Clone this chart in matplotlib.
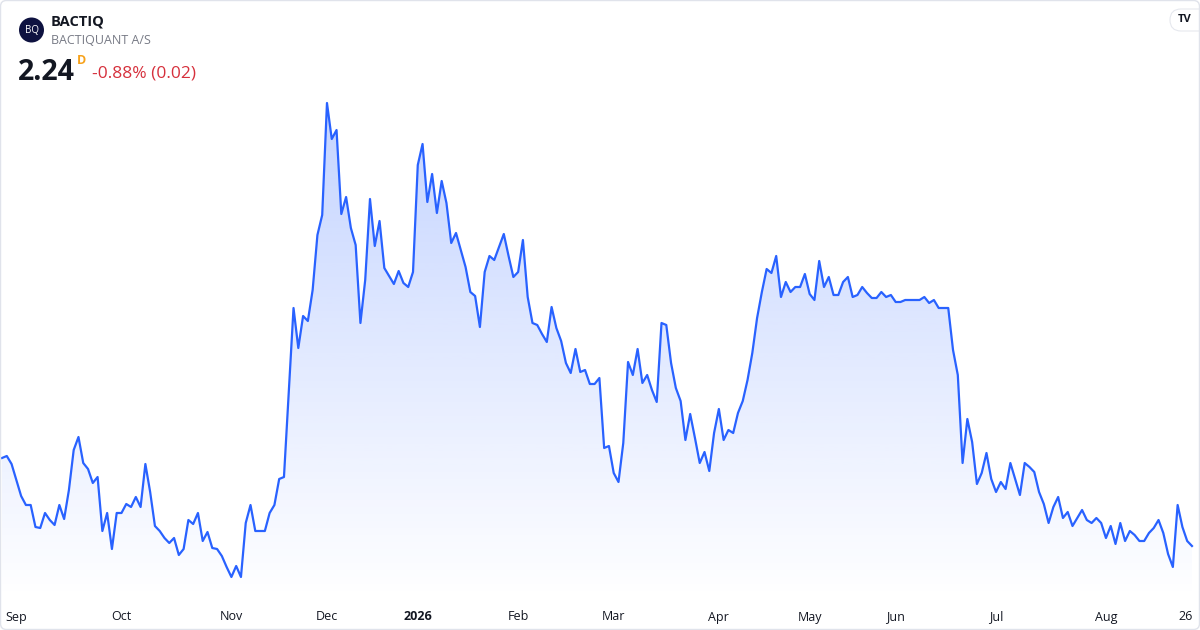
import numpy as np
import matplotlib
matplotlib.use("Agg")
import matplotlib.pyplot as plt
from matplotlib.patches import FancyBboxPatch, Circle
from matplotlib.transforms import blended_transform_factory

# ---------------- data ----------------
symbol = "BACTIQ"
company = "BACTIQUANT A/S"
last_price = "2.24"
change_text = "-0.88% (0.02)"

prices = [
    2.592, 2.600, 2.568, 2.504, 2.440, 2.404, 2.404, 2.316, 2.312, 2.372,
    2.344, 2.324, 2.404, 2.348, 2.464, 2.624, 2.676, 2.572, 2.548, 2.492,
    2.516, 2.300, 2.372, 2.228, 2.372, 2.372, 2.408, 2.396, 2.436, 2.396,
    2.568, 2.456, 2.320, 2.300, 2.272, 2.252, 2.272, 2.204, 2.228, 2.344,
    2.328, 2.372, 2.260, 2.296, 2.232, 2.228, 2.200, 2.156, 2.116, 2.160,
    2.116, 2.332, 2.404, 2.300, 2.300, 2.300, 2.372, 2.404, 2.508, 2.516,
    2.856, 3.192, 3.032, 3.160, 3.140, 3.264, 3.484, 3.564, 4.012, 3.868,
    3.904, 3.568, 3.636, 3.512, 3.444, 3.132, 3.304, 3.628, 3.440, 3.540,
    3.352, 3.320, 3.288, 3.340, 3.292, 3.276, 3.336, 3.764, 3.848, 3.616,
    3.728, 3.572, 3.700, 3.612, 3.452, 3.492, 3.424, 3.356, 3.256, 3.240,
    3.116, 3.336, 3.400, 3.384, 3.436, 3.488, 3.400, 3.316, 3.336, 3.464,
    3.236, 3.132, 3.124, 3.088, 3.056, 3.196, 3.112, 3.060, 2.972, 2.932,
    3.028, 2.936, 2.944, 2.888, 2.888, 2.912, 2.632, 2.640, 2.532, 2.496,
    2.652, 2.976, 2.924, 3.028, 2.892, 2.924, 2.864, 2.816, 3.132, 3.124,
    2.972, 2.872, 2.820, 2.664, 2.768, 2.672, 2.572, 2.616, 2.540, 2.692,
    2.788, 2.664, 2.704, 2.692, 2.772, 2.820, 2.904, 3.012, 3.152, 3.256,
    3.348, 3.332, 3.400, 3.236, 3.296, 3.256, 3.276, 3.276, 3.328, 3.248,
    3.224, 3.380, 3.276, 3.316, 3.244, 3.244, 3.296, 3.316, 3.236, 3.244,
    3.276, 3.252, 3.232, 3.232, 3.256, 3.236, 3.244, 3.216, 3.216, 3.224,
    3.224, 3.224, 3.224, 3.236, 3.212, 3.224, 3.192, 3.192, 3.192, 3.024,
    2.924, 2.572, 2.748, 2.656, 2.488, 2.532, 2.612, 2.508, 2.456, 2.496,
    2.468, 2.572, 2.508, 2.444, 2.572, 2.556, 2.536, 2.456, 2.408, 2.332,
    2.396, 2.436, 2.352, 2.376, 2.320, 2.352, 2.384, 2.344, 2.332, 2.352,
    2.332, 2.272, 2.320, 2.248, 2.332, 2.260, 2.300, 2.284, 2.260, 2.260,
    2.292, 2.312, 2.344, 2.292, 2.208, 2.156, 2.404, 2.316, 2.260, 2.240,
]

tick_labels = ["Sep", "Oct", "Nov", "Dec", "2026", "Feb", "Mar", "Apr",
               "May", "Jun", "Jul", "Aug", "26"]
tick_index = [3, 25, 48, 68, 87, 108, 128, 150, 169, 187, 208, 231, 247.6]

# ---------------- style ----------------
LINE = "#2962FF"
TEXT = "#131722"
GREY = "#787B86"
RED = "#D6303C"
ORANGE = "#F7A21B"
FONT = ["Open Sans", "DejaVu Sans"]
plt.rcParams["font.family"] = FONT

fig = plt.figure(figsize=(12, 6.3), dpi=100)
fig.patch.set_facecolor("white")
ax = fig.add_axes([0, 0, 1, 1])
ax.set_axis_off()

x = np.arange(len(prices))
y = np.array(prices)

base = 2.03
top = 4.03
poly = ax.fill_between(x, y, base, facecolor="none", edgecolor="none")
n = 256
alpha = np.linspace(0.0, 0.28, n)
rgba = np.zeros((n, 1, 4))
rgba[:, 0, 0] = 41 / 255
rgba[:, 0, 1] = 98 / 255
rgba[:, 0, 2] = 1.0
rgba[:, 0, 3] = alpha
img = ax.imshow(rgba, extent=[x[0], x[-1], base, top], origin="lower",
                aspect="auto", zorder=1, interpolation="bilinear")
img.set_clip_path(poly.get_paths()[0], transform=ax.transData)

ax.plot(x, y, color=LINE, lw=1.6, zorder=3, solid_joinstyle="round")

ax.set_xlim(-0.42, 250.68)
ax.set_ylim(1.904, 4.424)

trans = blended_transform_factory(ax.transData, ax.transAxes)
for lab, idx in zip(tick_labels, tick_index):
    ax.text(idx, 13 / 630, lab, transform=trans, ha="center", va="center",
            fontsize=9, color=TEXT,
            fontweight="bold" if lab == "2026" else "normal")

# ---------------- header ----------------
fig.patches.append(Circle((31.5 / 100, (630 - 30) / 100), 12.5 / 100,
                          transform=fig.dpi_scale_trans, facecolor="#0E1240",
                          edgecolor="none"))
fig.text(31.5 / 1200, 1 - 30.5 / 630, "BQ", ha="center", va="center",
         fontsize=7, color="white")
fig.text(51 / 1200, 1 - 21 / 630, symbol, ha="left", va="center",
         fontsize=10.5, fontweight="bold", color=TEXT)
fig.text(51 / 1200, 1 - 41 / 630, company, ha="left", va="center",
         fontsize=9, color=GREY)
fig.text(18 / 1200, 1 - 72 / 630, last_price, ha="left", va="center",
         fontsize=20.5, fontweight="bold", color=TEXT)
fig.text(77 / 1200, 1 - 61 / 630, "D", ha="left", va="center",
         fontsize=9, fontweight="bold", color=ORANGE)
fig.text(92 / 1200, 1 - 74 / 630, change_text, ha="left", va="center",
         fontsize=12.5, color=RED)

# TradingView badge
fig.patches.append(FancyBboxPatch((11.70, 6.3 - 0.31), 0.40, 0.22,
                                  boxstyle="round,pad=0,rounding_size=0.11",
                                  transform=fig.dpi_scale_trans,
                                  facecolor="white", edgecolor="#E6E8EE",
                                  lw=0.8, zorder=5))
fig.text(1185 / 1200, 1 - 20 / 630, "TV", ha="center", va="center",
         fontsize=8, fontweight="bold", color=TEXT, zorder=6)

# card border
fig.patches.append(FancyBboxPatch((0.005, 0.005), 11.99, 6.29,
                                  boxstyle="round,pad=0,rounding_size=0.06",
                                  transform=fig.dpi_scale_trans,
                                  facecolor="none", edgecolor="#E0E3EB",
                                  lw=1.0, zorder=10))

fig.savefig("out.png", dpi=100, facecolor="white")
